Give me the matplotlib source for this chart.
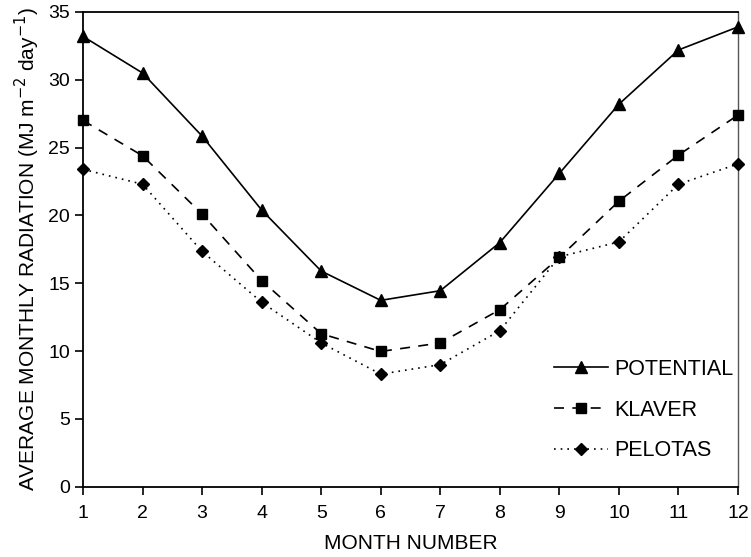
import matplotlib
matplotlib.use("Agg")
import matplotlib.pyplot as plt

plt.rcParams["font.family"] = ["Liberation Sans", "DejaVu Sans"]

months = list(range(1, 13))
potential = [33.2, 30.5, 25.85, 20.4, 15.9, 13.74, 14.45, 18.0, 23.1, 28.2, 32.2, 33.9]
klaver = [27.0, 24.4, 20.1, 15.2, 11.28, 9.97, 10.6, 13.05, 16.9, 21.05, 24.45, 27.4]
pelotas = [23.4, 22.3, 17.35, 13.6, 10.6, 8.3, 9.0, 11.5, 16.95, 18.05, 22.3, 23.8]

fig = plt.figure(figsize=(7.51, 5.57), dpi=100)
ax = fig.add_axes([0.1105, 0.1262, 0.8722, 0.8523])

ax.plot(months, potential, color="black", lw=1.2, marker="^", ms=8,
        label="POTENTIAL", clip_on=False, zorder=3)
ax.plot(months, klaver, color="black", lw=1.2, marker="s", ms=7,
        dashes=(6, 5), label="KLAVER", clip_on=False, zorder=3)
ax.plot(months, pelotas, color="black", lw=1.2, marker="D", ms=6.5,
        linestyle=(0, (1, 3)), label="PELOTAS", clip_on=False, zorder=3)

ax.set_xlim(1, 12)
ax.set_ylim(0, 35)
ax.set_xticks(months)
ax.set_yticks(range(0, 36, 5))
ax.tick_params(direction="out", length=6, width=1.2, labelsize=14, color="black")
ax.tick_params(axis="x", pad=7)

for side in ["left", "bottom", "top"]:
    ax.spines[side].set_linewidth(1.3)
    ax.spines[side].set_color("black")
ax.spines["right"].set_linewidth(1.0)
ax.spines["right"].set_color("#555555")

ax.set_xlabel("MONTH NUMBER", fontsize=15, labelpad=9)
ax.set_ylabel("AVERAGE MONTHLY RADIATION (MJ m$^{-2}$ day$^{-1}$)", fontsize=15, labelpad=4)

ax.legend(loc="upper left", bbox_to_anchor=(543 / 751, 1 - 348 / 557),
          bbox_transform=fig.transFigure, frameon=False, fontsize=15.5,
          handlelength=2.5, labelspacing=0.92, handletextpad=0.3, borderpad=0)

fig.savefig("out.png", dpi=100)
